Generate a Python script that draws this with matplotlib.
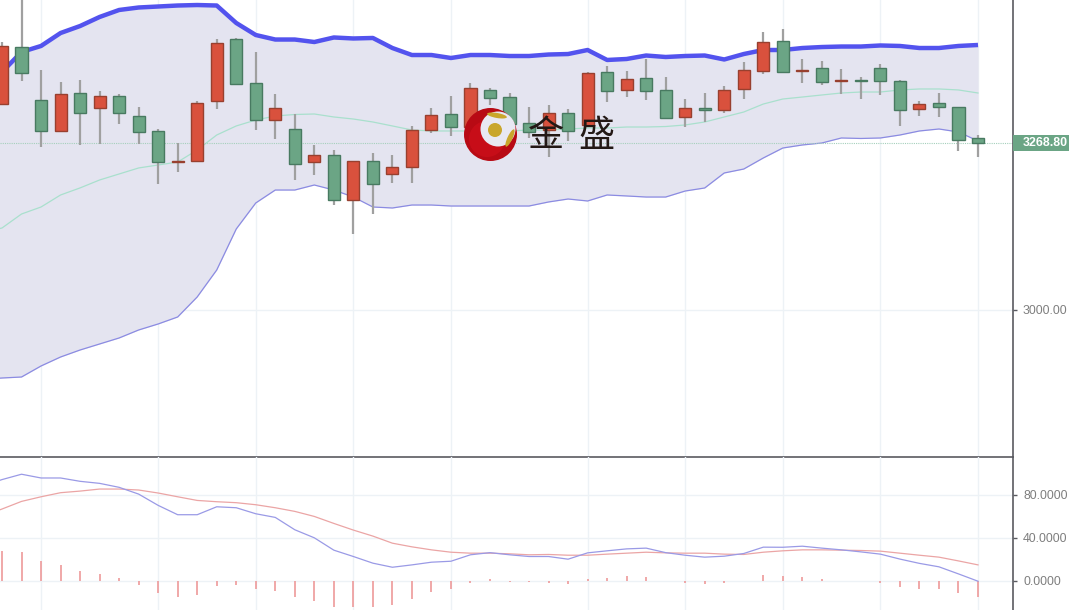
import numpy as np
import matplotlib
matplotlib.use("Agg")
import matplotlib.pyplot as plt
from matplotlib.patches import Circle, Ellipse, Rectangle
from matplotlib.transforms import blended_transform_factory

W, H = 1069, 610

# candles, red = up, green = down
opens = [3332.4,3424.4,3338.9,3288.9,3350.2,3326.0,3345.4,3313.1,3288.9,3238.8,3240.4,3337.3,3437.3,3366.3,3306.6,3292.1,3238.8,3250.1,3177.5,3240.4,
         3219.5,3230.8,3290.5,3316.3,3295.3,3355.1,3343.7,3301.8,3290.5,3317.9,3298.6,3384.1,3355.1,3374.4,3355.1,3311.5,3326.0,3322.8,3356.7,3385.7,
         3434.1,3386.5,3390.5,3370.2,3371.2,3390.5,3369.6,3324.4,3334.1,3327.6,3277.6]
closes = [3426.1,3382.5,3288.9,3348.6,3317.9,3345.4,3317.9,3287.3,3238.8,3240.4,3334.1,3430.9,3364.7,3306.6,3326.0,3235.6,3250.1,3177.5,3240.4,3203.3,
          3230.8,3290.5,3314.7,3295.3,3358.3,3342.1,3300.2,3287.3,3317.9,3288.9,3382.5,3353.4,3372.8,3353.4,3309.8,3326.0,3322.8,3355.1,3387.3,3432.5,
          3384.1,3388.1,3368.0,3371.2,3368.8,3369.6,3322.8,3332.4,3327.6,3274.3,3268.8]
highs = [3432.5,3510.0,3387.3,3368.0,3371.2,3353.4,3348.6,3327.6,3292.1,3269.5,3337.3,3437.3,3439.0,3416.4,3348.6,3316.3,3266.3,3258.2,3240.4,3253.4,
         3250.1,3297.0,3326.0,3345.4,3366.3,3358.3,3350.2,3327.6,3330.8,3324.4,3384.1,3393.8,3385.7,3405.1,3376.0,3340.5,3350.2,3361.5,3400.2,3448.6,
         3453.5,3405.1,3401.8,3388.9,3376.0,3397.0,3371.2,3337.3,3350.2,3327.6,3282.4]
lows = [3330.8,3369.6,3263.0,3288.9,3266.3,3267.9,3300.2,3267.9,3203.3,3222.7,3238.8,3324.4,3363.1,3290.5,3276.0,3209.8,3217.9,3169.4,3122.6,3155.0,
        3204.9,3204.9,3285.6,3280.8,3293.7,3330.8,3288.9,3277.6,3246.9,3272.7,3298.6,3335.7,3343.7,3338.9,3308.2,3295.3,3303.4,3317.9,3340.5,3380.9,
        3384.1,3366.3,3363.1,3348.6,3340.5,3347.0,3297.0,3313.1,3311.5,3256.6,3247.0]

# Bollinger bands; first entry is the bar just off the left edge
boll_upper = [3370.0,3384.1,3416.4,3426.1,3447.0,3458.3,3472.9,3484.2,3488.2,3489.8,3491.4,3492.2,3491.4,3463.2,3443.8,3436.5,3436.5,3432.5,3439.8,3438.2,3439.0,
              3422.8,3411.5,3411.5,3406.7,3411.5,3411.5,3409.9,3409.9,3412.3,3413.1,3419.6,3403.5,3405.1,3410.7,3408.3,3409.9,3410.7,3404.3,3413.1,3419.6,
              3419.6,3422.8,3424.4,3425.2,3425.2,3426.9,3426.1,3422.8,3422.8,3426.1,3427.7]
boll_mid = [3125.0,3132.3,3154.9,3166.2,3185.6,3197.0,3209.8,3219.5,3229.2,3234.0,3238.8,3258.2,3282.4,3297.0,3306.6,3313.1,3315.5,3316.3,3311.5,3308.2,3303.4,
            3297.0,3290.5,3288.9,3288.9,3288.9,3288.9,3288.9,3290.5,3290.5,3292.1,3293.7,3293.7,3295.3,3295.3,3296.1,3298.6,3303.4,3311.5,3319.5,3332.4,
            3340.5,3343.7,3347.0,3350.2,3351.8,3351.8,3355.1,3356.7,3356.7,3355.1,3350.2]
boll_lower = [2888.0,2890.2,2891.8,2909.6,2924.1,2935.4,2945.1,2954.8,2967.7,2977.4,2988.7,3021.0,3064.5,3130.7,3172.7,3193.6,3193.6,3201.7,3193.6,3182.3,3166.2,
              3164.6,3169.4,3169.4,3167.8,3167.8,3167.8,3167.8,3167.8,3174.3,3179.1,3175.9,3185.6,3184.0,3182.3,3182.3,3192.0,3196.9,3221.1,3227.5,3245.3,
              3261.4,3266.3,3269.5,3277.6,3276.8,3277.6,3282.4,3288.9,3292.1,3287.3,3272.7]

# lower pane
line_blue = [88.0,94.0,99.0,95.5,95.5,92.4,90.5,86.8,80.5,70.0,61.3,61.3,68.7,67.8,62.2,58.8,47.3,39.8,28.3,22.4,16.2,
             12.4,14.6,17.1,18.0,24.0,26.0,24.0,22.4,22.4,19.9,25.8,27.7,29.5,30.2,26.0,23.6,21.8,22.7,25.2,31.1,
             31.0,32.0,30.2,28.6,26.7,24.6,20.0,16.0,12.8,6.2,-0.6]
line_red = [60.0,66.6,73.7,78.0,81.8,83.3,85.2,85.2,84.3,81.5,78.0,74.6,73.4,72.5,70.6,67.8,64.4,59.7,53.2,47.0,41.4,
            34.8,31.4,28.6,26.4,25.5,25.5,24.9,24.0,24.3,23.6,23.6,24.6,25.5,26.4,25.8,25.5,25.5,24.6,24.3,26.4,
            27.7,28.6,28.6,28.3,28.0,27.4,25.5,23.6,21.8,18.3,14.6]
hist = [27.7,26.7,18.3,14.6,9.3,6.2,2.2,-4.0,-11.2,-15.5,-13.0,-4.7,-3.7,-7.5,-9.3,-15.5,-18.7,-24.9,-24.3,-24.9,
        -22.4,-16.8,-10.3,-7.5,-2.2,1.2,-1.0,-1.5,-2.2,-3.0,1.9,2.5,4.4,3.7,0.0,-2.2,-3.0,-2.2,-0.6,5.6,
        4.7,3.7,1.9,0.0,-0.6,-2.2,-5.6,-7.5,-8.1,-11.8,-14.9]

grid_index = [2, 8, 13, 18, 23, 30, 35, 40, 45, 50]
last_price = 3268.8
price_ticks = [3000]
price_tick_labels = ["3000.00"]
lower_ticks = [0, 40, 80]
lower_tick_labels = ["0.0000", "40.0000", "80.0000"]

plt.rcParams['font.family'] = ['Liberation Sans', 'DejaVu Sans']

RED, RED_E = '#d9513d', '#98402f'
GREEN, GREEN_E = '#6ba585', '#487a61'
AXC = '#5a5a60'
GRIDC = '#edf2f6'
TXT = '#7f7f7f'

fig = plt.figure(figsize=(W/100, H/100), dpi=100, facecolor='white')
right = 1013
split = 456.5
ax = fig.add_axes([0, 1-split/H, right/W, split/H])
ax2 = fig.add_axes([0, 0, right/W, (H-split)/H])

x = np.arange(len(opens))
xb = np.arange(-1, len(opens))
xlim = (-2/19.52, (right-2)/19.52)

for a in (ax, ax2):
    a.set_xlim(*xlim)
    a.set_xticks(grid_index)
    a.tick_params(axis='x', length=0, labelbottom=False)
    a.grid(True, color=GRIDC, lw=1.0)
    a.set_axisbelow(True)
    a.yaxis.tick_right()
    a.tick_params(axis='y', length=3, width=1, color=AXC, labelcolor=TXT, labelsize=8.9, pad=4.2)
    for s in ('left', 'top'):
        a.spines[s].set_visible(False)
    a.spines['right'].set_color(AXC)
    a.spines['right'].set_linewidth(1.2)
    a.set_facecolor('none')

ax.set_ylim(2763.5, 3500.3)
ax.set_yticks(price_ticks)
ax.set_yticklabels(price_tick_labels)
ax.spines['bottom'].set_color(AXC)
ax.spines['bottom'].set_linewidth(1.2)
ax2.spines['bottom'].set_visible(False)
ax2.set_ylim(-27.4, 115.5)
ax2.set_yticks(lower_ticks)
ax2.set_yticklabels(lower_tick_labels)

# top pane
ax.fill_between(xb, boll_lower, boll_upper, color='#e4e4f0', lw=0, zorder=1)
ax.plot(xb, boll_mid, color='#a9e0cd', lw=0.9, zorder=2)
ax.plot(xb, boll_lower, color='#8b8be2', lw=0.9, zorder=2)
ax.plot(xb, boll_upper, color='#5353ee', lw=3.2, zorder=2, solid_capstyle='butt')
ax.axhline(last_price, color='#a5d0bc', lw=0.8, ls=(0, (1, 1)), zorder=2)

ax.vlines(x, lows, highs, color='#a0a0a0', lw=1.6, zorder=3)
colors = [RED if c >= o else GREEN for o, c in zip(opens, closes)]
edges = [RED_E if c >= o else GREEN_E for o, c in zip(opens, closes)]
ax.bar(x, np.array(closes)-np.array(opens), bottom=opens, width=0.62,
       color=colors, edgecolor=edges, linewidth=1.0, zorder=4)

# last price badge
tr = blended_transform_factory(ax.transAxes, ax.transData)
ax.add_patch(Rectangle((1.0, last_price-13), 60/right, 26, transform=tr, color=GREEN,
                       clip_on=False, zorder=6, lw=0))
ax.text(1+10/right, last_price, "3268.80", transform=tr, color='white', fontsize=8.9,
        fontweight='bold', va='center', ha='left', clip_on=False, zorder=7)

# lower pane
ax2.vlines(x, 0, hist, color='#ee9a9a', lw=1.2, zorder=2)
ax2.plot(xb, line_red, color='#eba5a5', lw=0.9, zorder=3)
ax2.plot(xb, line_blue, color='#9a9ae6', lw=0.9, zorder=4)

# watermark
ov = fig.add_axes([0, 0, 1, 1], facecolor='none')
ov.set_xlim(0, W)
ov.set_ylim(H, 0)
ov.axis('off')
ov.set_zorder(10)
ov.add_patch(Circle((490.5, 134.5), 26.5, color='#b80a14', lw=0))
ov.add_patch(Circle((487, 139), 18, color='#d2101c', lw=0, alpha=0.6))
ov.add_patch(Circle((498, 129), 17.5, color='#e8e8f2', lw=0))
ov.add_patch(Circle((495, 130), 7, color='#c9a62c', lw=0))
ov.add_patch(Ellipse((497, 115.5), 20, 5, angle=10, color='#c9a62c', lw=0))
ov.add_patch(Ellipse((510, 138), 19, 5, angle=-65, color='#c9a62c', lw=0))
ov.text(546, 136, "金", family=['Noto Sans CJK SC', 'DejaVu Sans'], fontsize=26,
        color='#231815', ha='center', va='center')
ov.text(596, 136, "盛", family=['Noto Sans CJK SC', 'DejaVu Sans'], fontsize=26,
        color='#231815', ha='center', va='center')

fig.savefig('out.png', dpi=100)
